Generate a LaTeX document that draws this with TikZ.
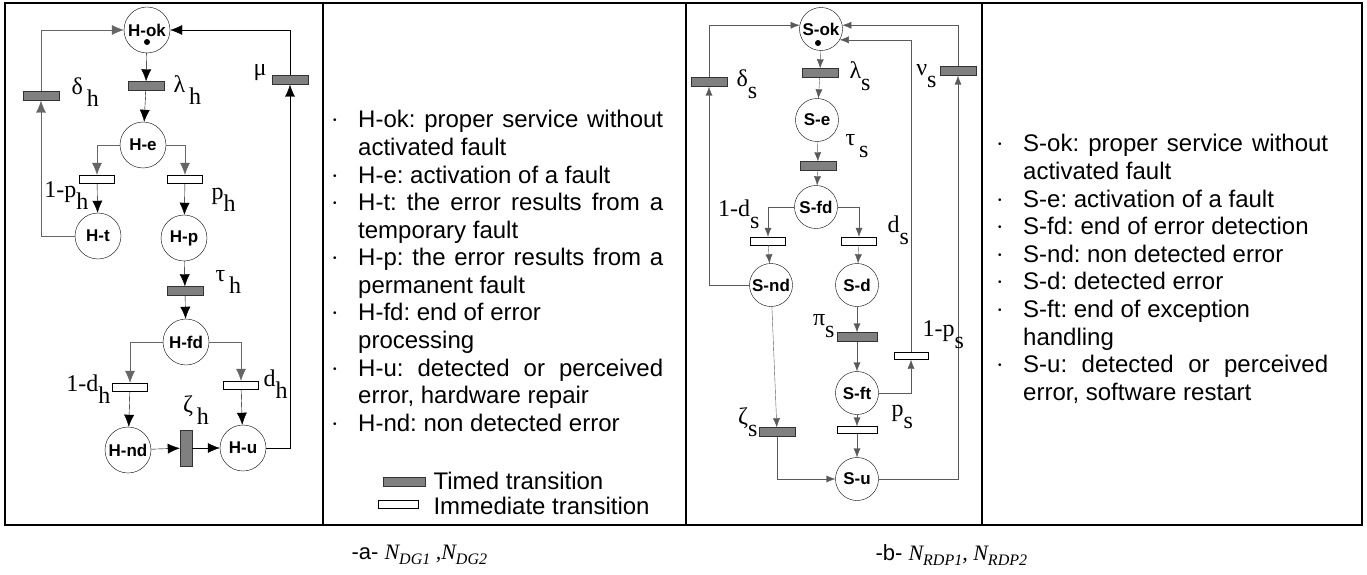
\documentclass[tikz,border=0pt]{standalone}
\usepackage{fontspec}
\setmainfont{Liberation Sans}
\newfontfamily\serif{Liberation Serif}
\usetikzlibrary{positioning}
\usetikzlibrary{arrows.meta}
\newcommand{\rate}[2]{{\serif\fontsize{24}{24}\selectfont #1\raisebox{-0.5em}{#2}}}
\newcommand{\litem}[1]{\par\hangindent=25pt\hangafter=1\noindent\makebox[25pt][l]{\fontsize{10}{10}\selectfont\raisebox{4pt}{\textbullet}}#1}
\frenchspacing

\begin{document}
\begin{tikzpicture}[x=1pt,y=-1pt,
    place/.style={shape=circle,draw=black,minimum size=46pt,inner sep=0pt,font=\bfseries\fontsize{17}{17}\selectfont},
    timed/.style={draw=black!80,fill=black!50,minimum width=36pt,minimum height=9pt,inner sep=0pt},
    immed/.style={draw=black,fill=white,minimum width=35pt,minimum height=8pt,inner sep=0pt},
    arc/.style={draw=black,-{Latex[length=12pt,width=10pt]}},
    garc/.style={arc,draw=black!60},
    sarc/.style={draw=black!65,-{Latex[length=9pt,width=7pt]}},
    legend/.style={text width=330pt,align=justify,inner sep=0pt,font=\fontsize{24}{27.6}\selectfont}]
    \useasboundingbox (0,0) rectangle (1367,575);
    \draw[line width=2pt] (5,3) rectangle (1362,525);
    \draw[line width=1.2pt] (323,3) -- (323,525);
    \draw[line width=1.2pt] (686,3) -- (686,525);
    \draw[line width=1.2pt] (982,3) -- (982,525);

    % hardware net
    \node[place] (Hok) at (147,30) {H-ok};
    \fill (Hok.center) ++(0,12) circle (3pt);
    \node[timed] (lamH) at (146,86) {};
    \node[place] (He) at (143,145) {H-e};
    \node[immed] (tHt) at (97,179) {};
    \node[immed] (tHp) at (185,179) {};
    \node[place] (Ht) at (98,236) {H-t};
    \node[place] (Hp) at (184,238) {H-p};
    \node[timed] (tauH) at (185,291) {};
    \node[place] (Hfd) at (186,342) {H-fd};
    \node[immed] (tHnd) at (130,387) {};
    \node[immed] (tHu) at (241,385) {};
    \node[place] (Hnd) at (128,450) {H-nd};
    \node[timed,minimum width=12pt,minimum height=36pt] (zetaH) at (186,448) {};
    \node[place] (Hu) at (243,448) {H-u};
    \node[timed] (deltaH) at (41,96) {};
    \node[timed] (muH) at (290,80) {};

    \draw[arc] (Hok) -- (lamH);
    \draw[arc] (lamH) -- (He);
    \draw[garc] (He.west) -| (tHt.north);
    \draw[garc] (He.east) -| (tHp.north);
    \draw[arc] (tHt) -- (Ht);
    \draw[arc] (tHp) -- (Hp);
    \draw[garc] (Ht.west) -| (deltaH.south);
    \draw[garc] (deltaH.north) |- (Hok.west);
    \draw[arc] (Hp) -- (tauH);
    \draw[arc] (tauH) -- (Hfd);
    \draw[garc] (Hfd.west) -| (tHnd.north);
    \draw[garc] (Hfd.east) -| (tHu.north);
    \draw[arc] (tHnd) -- (Hnd);
    \draw[arc] (tHu) -- (Hu);
    \draw[arc] (Hnd) -- (zetaH);
    \draw[arc] (zetaH) -- (Hu);
    \draw[arc] (Hu.east) -| (muH.south);
    \draw[arc] (muH.north) |- (Hok.east);

    \node[anchor=west] (rDeltaH) at (68,92) {\rate{δ}{\,h}};
    \node[anchor=west] (rLamH) at (170,90) {\rate{λ}{\,h}};
    \node[anchor=east] (rMuH) at (270,76) {\rate{μ}{}};
    \node[anchor=east] (rTHt) at (92,196) {\rate{1-p}{h}};
    \node[anchor=west] (rTHp) at (208,200) {\rate{p}{h}};
    \node[anchor=west] (rTauH) at (212,282) {\rate{τ}{\,h}};
    \node[anchor=east] (rTHnd) at (114,389) {\rate{1-d}{h}};
    \node[anchor=west] (rTHu) at (260,384) {\rate{d}{h}};
    \node[anchor=south] (rZetaH) at (196,428) {\rate{ζ}{\,h}};

    % legend of the hardware net
    \node[legend,anchor=north west] (legH) at (333,100) {%
      \litem{H-ok: proper service without\linebreak activated fault}
      \litem{H-e: activation of a fault}
      \litem{H-t: the error results from a\linebreak temporary fault}
      \litem{H-p: the error results from a\linebreak permanent fault}
      \litem{H-fd: end of error\newline processing}
      \litem{H-u: detected or perceived\linebreak error, hardware repair}
      \litem{H-nd: non detected error}\par};
    \node[timed,minimum width=42pt] (keyTimed) at (404,482) {};
    \node[immed,minimum width=40pt] (keyImmed) at (398,504) {};
    \node[anchor=west,font=\fontsize{24}{24}\selectfont] (txtTimed) at (430,481) {Timed transition};
    \node[anchor=west,font=\fontsize{24}{24}\selectfont] (txtImmed) at (430,506) {Immediate transition};

    % software net
    \node[place,minimum size=43pt] (Sok) at (821,29) {S-ok};
    \fill (Sok.center) ++(-3,14) circle (3pt);
    \node[timed] (lamS) at (820,73) {};
    \node[place,minimum size=43pt] (Se) at (817,120) {S-e};
    \node[timed] (tauS) at (818,166) {};
    \node[place,minimum size=43pt] (Sfd) at (816,207) {S-fd};
    \node[immed] (tSnd) at (768,241) {};
    \node[immed] (tSd) at (859,241) {};
    \node[place,minimum size=43pt] (Snd) at (771,285) {S-nd};
    \node[place,minimum size=43pt] (Sd) at (857,285) {S-d};
    \node[timed,minimum width=40pt] (piS) at (857,337) {};
    \node[place,minimum size=43pt] (Sft) at (857,393) {S-ft};
    \node[immed,minimum height=7pt,minimum width=40pt] (tSu) at (857,430) {};
    \node[place,minimum size=43pt] (Su) at (857,479) {S-u};
    \node[timed] (zetaS) at (777,432) {};
    \node[immed,minimum height=7pt,minimum width=34pt] (tSok) at (911,356) {};
    \node[timed] (deltaS) at (709,82) {};
    \node[timed] (nuS) at (958,71) {};

    \draw[sarc] (Sok) -- (lamS);
    \draw[sarc] (lamS) -- (Se);
    \draw[sarc] (Se) -- (tauS);
    \draw[sarc] (tauS) -- (Sfd);
    \draw[sarc] (Sfd.west) -| (tSnd.north);
    \draw[sarc] (Sfd.east) -| (tSd.north);
    \draw[sarc] (tSnd) -- (Snd);
    \draw[sarc] (tSd) -- (Sd);
    \draw[sarc] (Snd.west) -| (deltaS.south);
    \draw[sarc] (deltaS.north) |- (Sok.170);
    \draw[sarc] (Snd) -- (zetaS);
    \draw[sarc] (zetaS.south) |- (Su.west);
    \draw[sarc] (Sd) -- (piS);
    \draw[sarc] (piS) -- (Sft);
    \draw[sarc] (Sft) -- (tSu);
    \draw[sarc] (tSu) -- (Su);
    \draw[sarc] (Sft.east) -| (tSok.south);
    \draw[sarc] (tSok.north) |- (Sok.-30);
    \draw[sarc] (Su.east) -| (nuS.south);
    \draw[sarc] (nuS.north) |- (Sok.10);

    \node[anchor=west] (rDeltaS) at (733,84) {\rate{δ}{s}};
    \node[anchor=west] (rLamS) at (846,76) {\rate{λ}{s}};
    \node[anchor=east] (rNuS) at (940,76) {\rate{ν}{s}};
    \node[anchor=west] (rTauS) at (842,146) {\rate{τ}{\,s}};
    \node[anchor=east] (rTSnd) at (763,214) {\rate{1-d}{s}};
    \node[anchor=west] (rTSd) at (884,230) {\rate{d}{s}};
    \node[anchor=east] (rPiS) at (838,326) {\rate{π}{s}};
    \node[anchor=west] (rTSok) at (919,335) {\rate{1-p}{s}};
    \node[anchor=west] (rTSu) at (888,417) {\rate{p}{s}};
    \node[anchor=east] (rZetaS) at (761,422) {\rate{ζ}{s}};

    % legend of the software net
    \node[legend,anchor=north west] (legS) at (998,124) {%
      \litem{S-ok: proper service without\linebreak activated fault}
      \litem{S-e: activation of a fault}
      \litem{S-fd: end of error detection}
      \litem{S-nd: non detected error}
      \litem{S-d: detected error}
      \litem{S-ft: end of exception\newline handling}
      \litem{S-u: detected or perceived\linebreak error, software restart}\par};

    % captions
    \node[anchor=west,font=\fontsize{22}{22}\selectfont] (capA) at (348,555) {-a- {\serif\itshape N\raisebox{-0.25em}{\fontsize{16}{16}\selectfont DG1}\ ,N\raisebox{-0.25em}{\fontsize{16}{16}\selectfont DG2}}};
    \node[anchor=west,font=\fontsize{22}{22}\selectfont] (capB) at (872,555) {-b- {\serif\itshape N\raisebox{-0.25em}{\fontsize{16}{16}\selectfont RDP1}, N\raisebox{-0.25em}{\fontsize{16}{16}\selectfont RDP2}}};
\end{tikzpicture}
\end{document}
